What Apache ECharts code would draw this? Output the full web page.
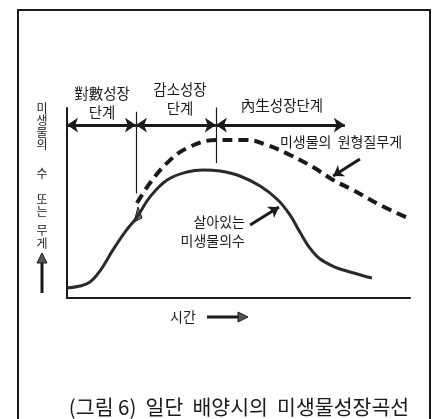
<!DOCTYPE html>
<html>
<head>
<meta charset="utf-8">
<script src="https://cdn.jsdelivr.net/npm/echarts@6/dist/echarts.min.js"></script>
<style>
html,body{margin:0;padding:0;background:#fff;}
#chart{width:441px;height:419px;}
</style>
</head>
<body>
<div id="chart"></div>
<script>
// ---- data (time units 0-100, amount units 0-100) ----
const livingCount = [
  [0,5.3],[3.8,6.3],[6.7,8.4],[9.6,14.2],[13.4,25.3],[16.9,34.7],[20.4,42.6],
  [24.2,53.2],[29.2,62.1],[35.0,66.3],[39.7,67.4],[44.6,66.8],[50.4,64.2],
  [56.3,58.9],[61.5,51.6],[65.0,43.7],[67.9,34.7],[70.8,26.3],[73.8,20.5],
  [78.1,16.3],[82.5,13.7],[88.9,10.5]
];
const protoplasmWeight = [
  [20.4,50],[24.2,60.5],[29.2,71.1],[35.0,78.9],[43.7,83.2],[52.5,83.2],
  [58.3,80.5],[65.0,75.3],[71.7,68.9],[77.6,62.1],[83.4,56.8],[91.3,48.9],[99.4,42.1]
];
const phaseBounds = [0, 20.1, 43.4, 81];
const phaseNames = ['對數성장\n단계', '감소성장\n단계', '內生성장단계'];
const seriesNames = ['살아있는\n미생물의수', '미생물의  원형질무게'];
const yAxisTitle = ['미','생','물','의','수','또','는','무','게'];
const xAxisTitle = '시간';
const caption = '(그림 6)  일단  배양시의  미생물성장곡선';

const chart = echarts.init(document.getElementById('chart'));
const font = '"Noto Sans CJK KR", "Noto Sans", sans-serif';
const ink = '#1a1a1a';
const arrowY = 91;

const phaseArrows = [];
for (let i = 0; i < phaseBounds.length - 1; i++) {
  phaseArrows.push({coords: [[phaseBounds[i], arrowY], [phaseBounds[i+1], arrowY]]});
}
const boundaryLines = [
  {coords: [[phaseBounds[1], 98], [phaseBounds[1], 55]]},
  {coords: [[phaseBounds[2], 100.5], [phaseBounds[2], 71]]}
];
const pointers = [
  {coords: [[85.4, 73.2], [77.6, 64.2]]},
  {coords: [[53.4, 38.4], [61.8, 47.9]]}
];

// y-axis stacked title positions
const yTitleY = [108, 120, 132, 144, 173, 199, 211, 230, 243];
const graphics = [
  {type:'rect', shape:{x:18, y:10, width:412, height:430}, style:{fill:'none', stroke:ink, lineWidth:2}, silent:true},
  {type:'text', style:{text: caption, x: 239, y: 407, align:'center', verticalAlign:'middle', font:'20.5px ' + font, fill: ink}},
  {type:'text', style:{text: xAxisTitle, x: 183, y: 317, align:'center', verticalAlign:'middle', font:'14px ' + font, fill: ink}},
  {type:'line', shape:{x1:207, y1:317, x2:240, y2:317}, style:{stroke:ink, lineWidth:3}},
  {type:'polygon', shape:{points:[[238,312],[248,317],[238,322]]}, style:{fill:'#555', stroke:ink, lineWidth:1}},
  {type:'line', shape:{x1:42, y1:262, x2:42, y2:293}, style:{stroke:ink, lineWidth:3}},
  {type:'polygon', shape:{points:[[37,263],[42,253],[47,263]]}, style:{fill:'#555', stroke:ink, lineWidth:1}},
  {type:'polygon', shape:{points:[[134,222],[138,207],[142,218]]}, style:{fill:'#777', stroke:ink, lineWidth:1}},
  {type:'text', style:{text: phaseNames[0], x: 102, y: 103, align:'center', verticalAlign:'middle', font:'14.5px ' + font, lineHeight:19, fill: ink}},
  {type:'text', style:{text: phaseNames[1], x: 180, y: 99, align:'center', verticalAlign:'middle', font:'14.5px ' + font, lineHeight:19, fill: ink}},
  {type:'text', style:{text: phaseNames[2], x: 282, y: 105, align:'center', verticalAlign:'middle', font:'14.5px ' + font, fill: ink}},
  {type:'text', style:{text: seriesNames[1], x: 341, y: 142, align:'center', verticalAlign:'middle', font:'14px ' + font, fill: ink}},
  {type:'text', style:{text: seriesNames[0], x: 245, y: 231, align:'right', verticalAlign:'middle', font:'14px ' + font, lineHeight:19, fill: ink}}
];
yAxisTitle.forEach((c, i) => {
  graphics.push({type:'text', style:{text:c, x:42, y:yTitleY[i], align:'center', verticalAlign:'middle', font:'12px ' + font, lineHeight:12, fill: ink}});
});

chart.setOption({
  animation: false,
  backgroundColor: '#fff',
  grid: {left: 67, right: 31, top: 108, bottom: 121, containLabel: false},
  xAxis: {type:'value', min:0, max:100, axisLine:{show:true, onZero:false, lineStyle:{color:ink, width:2}},
          axisTick:{show:false}, axisLabel:{show:false}, splitLine:{show:false}},
  yAxis: {type:'value', min:0, max:100, axisLine:{show:true, onZero:false, lineStyle:{color:ink, width:2}},
          axisTick:{show:false}, axisLabel:{show:false}, splitLine:{show:false}},
  series: [
    {type:'line', name:'living', data: livingCount, smooth: 0.4, showSymbol:false,
     lineStyle:{color:'#2a2a2a', width:3}},
    {type:'line', name:'weight', data: protoplasmWeight, smooth: 0.4, showSymbol:false,
     lineStyle:{color:ink, width:4, type:[10,6]}},
    {type:'lines', coordinateSystem:'cartesian2d', data: phaseArrows, symbol:['arrow','arrow'], symbolSize:11,
     lineStyle:{color:ink, width:3, opacity:1}, itemStyle:{color:'#666'}},
    {type:'lines', coordinateSystem:'cartesian2d', data: boundaryLines, symbol:['none','none'],
     lineStyle:{color:ink, width:1.2, opacity:1}},
    {type:'lines', coordinateSystem:'cartesian2d', data: pointers, symbol:['none','arrow'], symbolSize:10,
     lineStyle:{color:ink, width:3, opacity:1}}
  ],
  graphic: graphics
});
</script>
</body>
</html>
